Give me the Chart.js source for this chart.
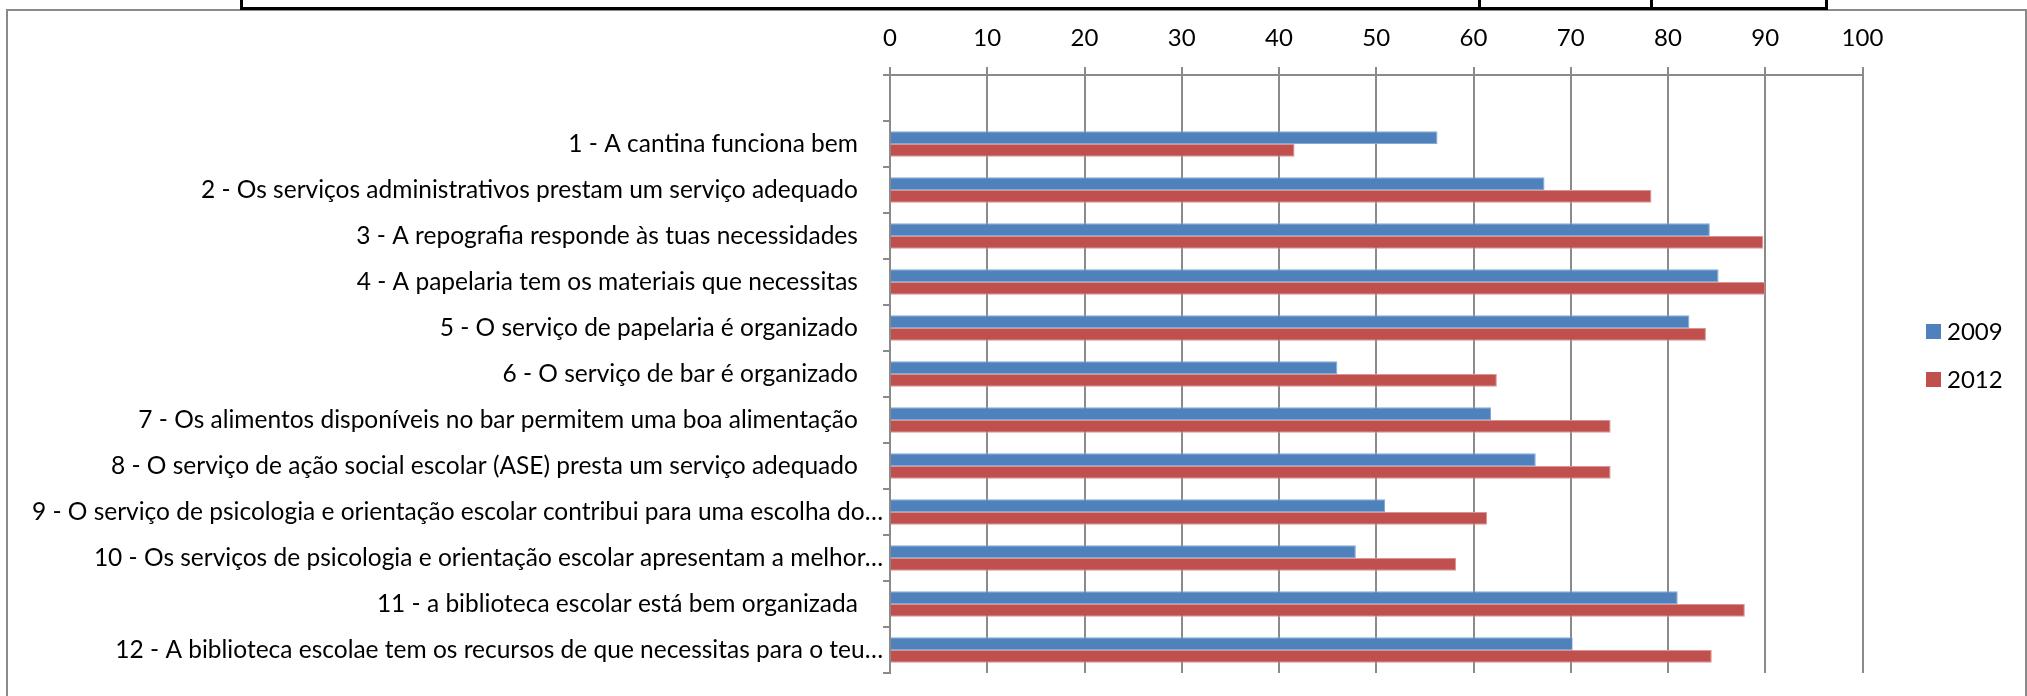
<!DOCTYPE html>
<html>
<head>
<meta charset="utf-8">
<script src="https://cdn.jsdelivr.net/npm/chart.js@4.4.1/dist/chart.umd.min.js"></script>
<style>
  body { margin: 0; background: #fff; overflow: hidden; }
  #wrap { position: absolute; left: 0; top: 0; width: 2027px; height: 696px; }
  #frame { position: absolute; left: 6px; top: 9px; width: 2017px; height: 720px; border: 2px solid #8a8a8a; pointer-events: none; }
  #topBox { position: absolute; left: 240px; top: -10px; width: 1582px; height: 14px; border: 3px solid #000; pointer-events: none; }
  .div { position: absolute; top: -10px; width: 3px; height: 17px; background: #000; }
</style>
</head>
<body>
<div id="wrap"><canvas id="surveyChart"></canvas></div>
<div id="frame"></div>
<div id="topBox"></div>
<div class="div" style="left:1478px"></div>
<div class="div" style="left:1650px"></div>

<script>
// categories (first row is the empty slot at the top of the Excel chart)
const questions = [
    '',
    '1 - A cantina funciona bem',
    '2 - Os serviços administrativos prestam um serviço adequado',
    '3 - A repografia responde às tuas necessidades',
    '4 - A papelaria tem os materiais que necessitas',
    '5 - O serviço de papelaria é organizado',
    '6 - O serviço de bar é organizado',
    '7 - Os alimentos disponíveis no bar permitem uma boa alimentação',
    '8 - O serviço de ação social escolar (ASE) presta um serviço adequado',
    '9 - O serviço de psicologia e orientação escolar contribui para uma escolha do…',
    '10 - Os serviços de psicologia e orientação escolar apresentam a melhor…',
    '11 - a biblioteca escolar está bem organizada',
    '12 - A biblioteca escolae tem os recursos de que necessitas para o teu…'
];

const years = ['2009', '2012'];

// percentages
const values2009 = [null, 56.3, 67.3, 84.3, 85.2, 82.2, 46.0, 61.8, 66.4, 50.9, 47.9, 81.0, 70.2];
const values2012 = [null, 41.6, 78.3, 89.8, 90.0, 83.9, 62.4, 74.1, 74.1, 61.4, 58.2, 87.9, 84.5];

Chart.defaults.font.family = 'Lato';
Chart.defaults.color = '#000';

// legend drawn at the right, like the Excel one
const sideLegend = {
    id: 'sideLegend',
    afterDraw(chart) {
        const ctx = chart.ctx;
        ctx.save();
        ctx.font = '24px Lato';
        ctx.textBaseline = 'middle';
        chart.data.datasets.forEach((ds, i) => {
            const y = 324 + i * 48;
            ctx.fillStyle = ds.backgroundColor;
            ctx.fillRect(1926, y, 15, 15);
            ctx.fillStyle = '#000';
            ctx.fillText(ds.label, 1947, y + 8);
        });
        ctx.restore();
    }
};

const ctx = document.getElementById('surveyChart').getContext('2d');

new Chart(ctx, {
    type: 'bar',
    data: {
        labels: questions,
        datasets: [
            {
                label: years[0],
                data: values2009,
                backgroundColor: '#4f81bd',
                borderColor: '#86a8d3',
                borderWidth: 1
            },
            {
                label: years[1],
                data: values2012,
                backgroundColor: '#c0504d',
                borderColor: '#d99593',
                borderWidth: 1
            }
        ]
    },
    options: {
        indexAxis: 'y',
        responsive: true,
        maintainAspectRatio: false,
        animation: false,
        datasets: {
            bar: {
                categoryPercentage: 0.55,
                barPercentage: 1.0
            }
        },
        layout: {
            padding: { left: 0, right: 164.5, top: 0, bottom: 23 }
        },
        scales: {
            x: {
                position: 'top',
                min: 0,
                max: 100,
                ticks: {
                    stepSize: 10,
                    color: '#000',
                    font: { size: 24 },
                    padding: 14
                },
                grid: {
                    color: '#8a8a8a',
                    lineWidth: 2,
                    tickLength: 8
                },
                border: { color: '#8a8a8a', width: 2 },
                afterFit: (scale) => { scale.height = 75; }
            },
            y: {
                ticks: {
                    color: '#000',
                    font: { size: 24.5 },
                    padding: 0,
                    autoSkip: false,
                    callback: function (value) {
                        const s = this.getLabelForValue(value);
                        // Excel labels that fit carry trailing blanks
                        return s.endsWith('…') ? s : s + '    ';
                    }
                },
                grid: {
                    drawOnChartArea: false,
                    color: '#8a8a8a',
                    lineWidth: 2,
                    tickLength: 7
                },
                border: { color: '#8a8a8a', width: 2 },
                afterFit: (scale) => { scale.width = 890; }
            }
        },
        plugins: {
            legend: { display: false },
            tooltip: { enabled: false }
        }
    },
    plugins: [sideLegend]
});
</script>
</body>
</html>
